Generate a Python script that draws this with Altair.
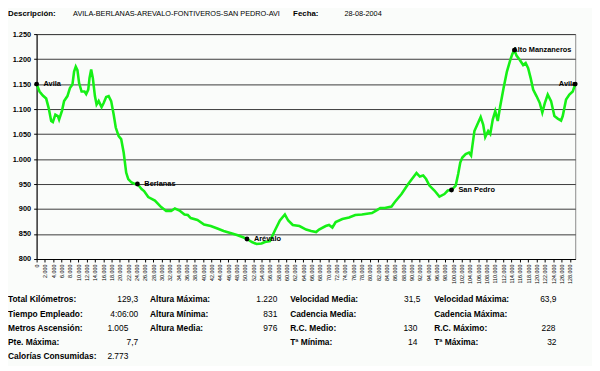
import altair as alt
import pandas as pd

# ---------------- data ----------------
km = [0.0, 0.7, 1.5, 2.3, 2.9, 3.5, 3.9, 4.5, 5.1, 5.4, 6.1, 6.6, 7.4, 8.0, 8.6, 9.0, 9.4, 9.8,
      10.2, 10.8, 11.5, 11.9, 12.4, 12.7, 13.1, 13.5, 14.0, 14.4, 14.9, 15.6, 16.1, 16.7, 17.3,
      17.9, 18.5, 19.0, 19.7, 20.3, 20.9, 21.5, 22.0, 22.8, 23.6, 24.2, 25.2, 25.8, 26.8, 28.4,
      29.9, 31.1, 32.3, 33.2, 34.3, 35.5, 36.3, 37.0, 38.6, 40.2, 41.8, 43.4, 44.9, 46.5, 48.1,
      49.7, 50.5, 51.7, 52.8, 54.0, 54.8, 56.0, 57.2, 58.4, 59.6, 60.4, 61.5, 63.1, 64.7, 65.9,
      67.1, 67.8, 69.4, 70.2, 71.0, 71.8, 73.4, 75.0, 76.5, 78.1, 79.7, 80.5, 81.3, 82.5, 83.6,
      85.2, 86.0, 87.6, 89.2, 90.1, 91.2, 92.0, 92.8, 93.5, 94.3, 95.5, 96.7, 97.9, 98.7, 99.6,
      100.6, 101.2, 101.7, 102.2, 103.0, 103.8, 104.3, 104.6, 105.1, 105.8, 106.6, 107.2, 107.7,
      108.4, 108.9, 109.5, 110.1, 110.7, 111.3, 112.1, 112.9, 113.7, 114.2, 114.7, 115.2, 116.0,
      116.8, 117.4, 118.0, 118.6, 119.2, 120.0, 120.8, 121.4, 122.0, 122.7, 123.5, 124.3, 125.1,
      125.9, 126.3, 127.1, 127.9, 128.7, 129.3]
elev = [1150, 1135, 1127, 1121, 1102, 1076, 1074, 1089, 1086, 1079, 1097, 1116, 1126, 1142, 1149,
        1175, 1185, 1178, 1152, 1135, 1135, 1130, 1139, 1162, 1179, 1162, 1126, 1109, 1116, 1104,
        1112, 1124, 1126, 1116, 1089, 1063, 1046, 1040, 1013, 973, 960, 953, 950, 950, 940, 936,
        924, 917, 904, 896, 896, 901, 897, 889, 888, 882, 878, 869, 866, 861, 856, 852, 848, 843,
        840, 834, 830, 831, 834, 836, 857, 877, 889, 877, 868, 866, 859, 856, 854, 859, 866, 868,
        863, 874, 880, 883, 888, 889, 891, 892, 896, 902, 902, 905, 914, 930, 950, 960, 972, 965,
        967, 960, 947, 937, 925, 930, 937, 938, 947, 970, 993, 1003, 1010, 1013, 1007, 1026, 1056,
        1069, 1084, 1069, 1044, 1056, 1050, 1079, 1096, 1076, 1106, 1142, 1175, 1198, 1210, 1218,
        1207, 1198, 1188, 1192, 1182, 1162, 1139, 1126, 1112, 1093, 1112, 1129, 1116, 1086, 1081,
        1077, 1086, 1119, 1129, 1135, 1150]

waypoint_names = ["Avila", "Berlanas", "Arévalo", "San Pedro", "Alto Manzaneros", "Avila"]
waypoint_km = [0.0, 24.2, 50.5, 99.6, 114.7, 129.3]
waypoint_elev = [1150, 950, 840, 938, 1218, 1150]

x_ticks = list(range(0, 128001, 2000))
y_ticks = [800, 850, 900, 950, 1000, 1050, 1100, 1150, 1200, 1250]

header_labels = ["Descripción:", "Fecha:"]
header_values = ["AVILA-BERLANAS-AREVALO-FONTIVEROS-SAN PEDRO-AVI", "28-08-2004"]

stat_labels = [
    ["Total Kilómetros:", "Tiempo Empleado:", "Metros Ascensión:", "Pte. Máxima:", "Calorías Consumidas:"],
    ["Altura Máxima:", "Altura Mínima:", "Altura Media:"],
    ["Velocidad Media:", "Cadencia Media:", "R.C. Medio:", "Tª Mínima:"],
    ["Velocidad Máxima:", "Cadencia Máxima:", "R.C.  Máximo:", "Tª Máxima:"],
]
stat_values = [
    ["129,3", "4:06:00", "1.005", "7,7", "2.773"],
    ["1.220", "831", "976"],
    ["31,5", "", "130", "14"],
    ["63,9", "", "228", "32"],
]

# ---------------- layout (page pixels -> plot-relative) ----------------
PLOT_X0, PLOT_Y0 = 37, 32
W, H = 546, 228
FONT = "Liberation Sans"

row_y = [301, 315.3, 329.6, 343.9, 358.2]
col_label_x = [8, 152, 294, 440]
col_value_right = [[140, 140, 130, 140, 130], [281, 281, 281], [426, 426, 423, 423], [564, 564, 563, 564]]

lab_rows, val_rows = [], []
for c, labs in enumerate(stat_labels):
    for r, t in enumerate(labs):
        lab_rows.append({"t": t, "px": col_label_x[c] - PLOT_X0, "py": row_y[r] - PLOT_Y0})
        v = stat_values[c][r]
        if v:
            val_rows.append({"t": v, "px": col_value_right[c][r] - PLOT_X0, "py": row_y[r] - PLOT_Y0})
head_lab = pd.DataFrame({"t": header_labels, "px": [8 - PLOT_X0, 297 - PLOT_X0], "py": [12 - PLOT_Y0] * 2})
head_val = pd.DataFrame({"t": header_values, "px": [74 - PLOT_X0, 349 - PLOT_X0], "py": [12 - PLOT_Y0] * 2})
stat_lab = pd.DataFrame(lab_rows)
stat_val = pd.DataFrame(val_rows)

profile = pd.DataFrame({"dist": [k * 1000 for k in km], "elev": elev})
wp = pd.DataFrame({"idx": list(range(len(waypoint_names))), "name": waypoint_names,
                   "dist": [k * 1000 for k in waypoint_km], "elev": waypoint_elev})

xscale = alt.Scale(domain=[0, 129300], nice=False, zero=False)
yscale = alt.Scale(domain=[800, 1250], nice=False, zero=False)
dot_fmt = "replace(format(datum.value, ','), ',', '.')"

x_axis = alt.Axis(
    values=x_ticks, labelAngle=270, labelFontSize=5.5, labelExpr=dot_fmt, labelOverlap=False,
    labelFlush=False, grid=False, tickSize=3, labelPadding=2, title=None, labelColor="#000",
    domainColor="#000", tickColor="#000", labelFont=FONT, labelSeparation=0)
y_axis = alt.Axis(
    values=y_ticks, grid=True, gridColor="#3a3a3a", gridWidth=1, labelExpr=dot_fmt,
    labelFontSize=7.5, labelFontWeight="bold", tickSize=3, labelPadding=3, title=None,
    labelColor="#000", domainColor="#000", tickColor="#000", labelFont=FONT, labelOverlap=False)

x_enc = alt.X("dist:Q", scale=xscale, axis=x_axis)
y_enc = alt.Y("elev:Q", scale=yscale, axis=y_axis)

line = alt.Chart(profile).mark_line(color="#16f016", strokeWidth=2.6).encode(x=x_enc, y=y_enc)
dots = alt.Chart(wp).mark_circle(color="black", size=24, opacity=1).encode(x=x_enc, y=y_enc)

txt = dict(font=FONT, fontSize=7.5, fontWeight="bold", color="black", baseline="middle")
lab_left = alt.Chart(wp).transform_filter("datum.idx <= 3").mark_text(align="left", dx=7, **txt).encode(
    x=x_enc, y=y_enc, text="name:N")
lab_top = alt.Chart(wp).transform_filter("datum.idx == 4").mark_text(align="left", dx=-2, **txt).encode(
    x=x_enc, y=y_enc, text="name:N")
lab_end = alt.Chart(wp).transform_filter("datum.idx == 5").mark_text(align="right", dx=1, **txt).encode(
    x=x_enc, y=y_enc, text="name:N")


def free_text(df, align, weight, size):
    return alt.Chart(df).mark_text(align=align, baseline="middle", font=FONT, fontSize=size,
                                   fontWeight=weight, color="black").encode(
        x=alt.X("px:Q", scale=None), y=alt.Y("py:Q", scale=None), text="t:N")


layers = [line, dots, lab_left, lab_top, lab_end,
          free_text(head_lab, "left", "bold", 8),
          free_text(head_val, "left", "normal", 7.4),
          free_text(stat_lab, "left", "bold", 8.5),
          free_text(stat_val, "right", "normal", 8.5)]

chart = alt.layer(*layers).properties(
    width=W, height=H,
    autosize=alt.AutoSizeParams(type="none"),
    padding={"left": 29, "top": 24, "right": 17, "bottom": 106},
    background="#fafcfa",
).configure_view(stroke="#8a8a8a", strokeWidth=1
).configure_axisX(labelOverlap=False, labelSeparation=0
).configure_axisY(labelOverlap=False)

chart.save("out.html", embed_options={"renderer": "svg", "actions": False})
